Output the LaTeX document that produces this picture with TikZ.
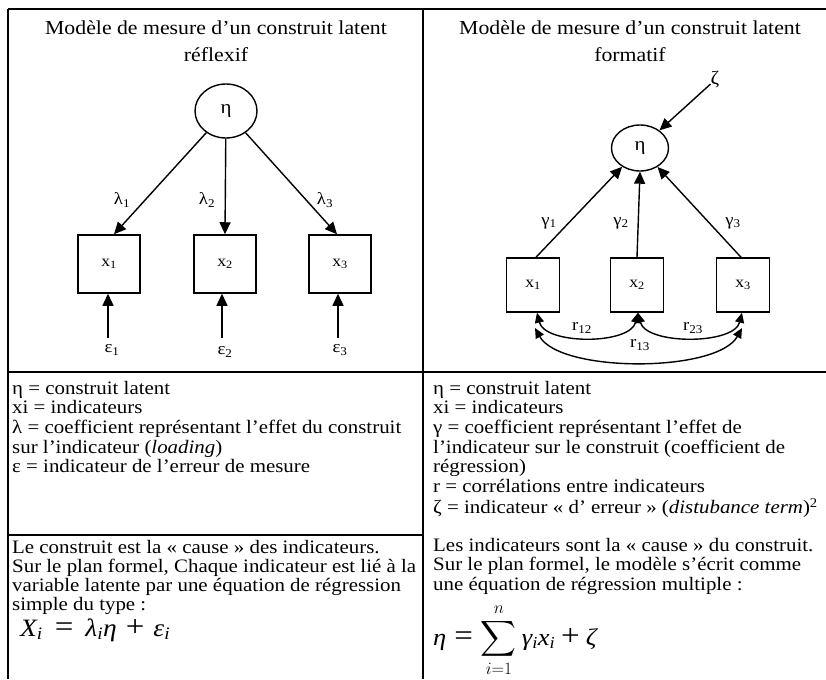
\documentclass[tikz,border=0pt]{standalone}
\usepackage{amsmath}
\usepackage{fontspec}
\setmainfont{Liberation Serif}[FakeStretch=1.1]
\usetikzlibrary{arrows.meta,shapes.geometric}
\tikzset{
  rule/.style={line width=1.4pt},
  lat/.style={draw,ellipse,line width=1.4pt,inner sep=0pt,font=\fontsize{19}{19}\selectfont},
  obs/.style={draw,rectangle,line width=1.5pt,minimum width=62pt,minimum height=58pt,inner sep=0pt,font=\fontsize{16}{16}\selectfont},
  obsb/.style={obs,minimum width=53pt,minimum height=54pt},
  arr/.style={line width=1.4pt,-{Triangle[length=12pt,width=11pt]}},
  darr/.style={line width=1.4pt,{Triangle[length=10pt,width=9pt]}-{Triangle[length=10pt,width=9pt]}},
  lbl/.style={font=\fontsize{17}{17}\selectfont,inner sep=0pt},
  body/.style={anchor=base west,inner sep=0pt,font=\fontsize{19}{19.7}\selectfont},
  ttl/.style={anchor=base,inner sep=0pt,font=\fontsize{19.8}{27}\selectfont},
}
\newcommand{\bigop}[1]{{\upshape\fontsize{30}{30}\selectfont #1}}
\begin{document}
\begin{tikzpicture}[x=1pt,y=-1pt]
\useasboundingbox (0,0) rectangle (826,679);
% table rules
\draw[rule] (8,9) -- (826,9);
\draw[rule] (8,9) -- (8,679);
\draw[rule] (423,9) -- (423,679);
\draw[rule] (8,372) -- (826,372);
\draw[rule] (8,535) -- (423,535);
% titles
\node[ttl] (ttlL) at (216,35) {\begin{tabular}[t]{@{}c@{}}Modèle de mesure d’un construit latent\\ réflexif\end{tabular}};
\node[ttl] (ttlR) at (630,35) {\begin{tabular}[t]{@{}c@{}}Modèle de mesure d’un construit latent\\ formatif\end{tabular}};
% ---- left diagram
\node[lat,minimum width=62pt,minimum height=54pt] (etaL) at (226,111) {η};
\node[obs] (x1) at (109,264) {x\textsubscript{1}};
\node[obs] (x2) at (225,264) {x\textsubscript{2}};
\node[obs] (x3) at (340,264) {x\textsubscript{3}};
\draw[arr] (etaL) -- ([xshift=5pt]x1.north);
\draw[arr] (etaL) -- (x2.north);
\draw[arr] (etaL) -- ([xshift=-3pt]x3.north);
\node[lbl] (l1) at (122,200) {λ\textsubscript{1}};
\node[lbl] (l2) at (207,200) {λ\textsubscript{2}};
\node[lbl] (l3) at (325,200) {λ\textsubscript{3}};
\coordinate (t1) at (108,338);
\coordinate (t2) at (222,338);
\coordinate (t3) at (338,338);
\draw[arr] (t1) -- (t1 |- x1.south);
\draw[arr] (t2) -- (t2 |- x2.south);
\draw[arr] (t3) -- (t3 |- x3.south);
\node[lbl] (e1) at (112,350) {ε\textsubscript{1}};
\node[lbl] (e2) at (225,352) {ε\textsubscript{2}};
\node[lbl] (e3) at (340,350) {ε\textsubscript{3}};
% ---- right diagram
\node[lat,minimum width=57pt,minimum height=46pt] (etaR) at (640,148) {η};
\node[lbl,font=\fontsize{19}{19}\selectfont] (zeta) at (715,80) {ζ};
\draw[arr] (zeta) -- (etaR);
\node[obsb] (y1) at (533,285) {x\textsubscript{1}};
\node[obsb] (y2) at (637,285) {x\textsubscript{2}};
\node[obsb] (y3) at (743,285) {x\textsubscript{3}};
\draw[arr] ([xshift=3pt]y1.north) -- (etaR);
\draw[arr] (y2.north) -- (etaR.south);
\draw[arr] ([xshift=-2pt]y3.north) -- (etaR);
\node[lbl] (g1) at (549,223) {γ\textsubscript{1}};
\node[lbl] (g2) at (621,223) {γ\textsubscript{2}};
\node[lbl] (g3) at (733,223) {γ\textsubscript{3}};
\draw[darr] ([xshift=4pt]y1.south) .. controls (545,345) and (630,345) .. ([xshift=1pt]y2.south);
\draw[darr] ([xshift=1pt]y2.south) .. controls (646,345) and (734,345) .. ([xshift=-1pt]y3.south);
\coordinate (c1) at (535,328);
\coordinate (c3) at (742,328);
\draw[darr] (c1) .. controls (560,373) and (717,373) .. (c3);
\node[lbl] (r12) at (582,328) {r\textsubscript{12}};
\node[lbl] (r23) at (693,328) {r\textsubscript{23}};
\node[lbl] (r13) at (640,345) {r\textsubscript{13}};
% ---- row 2 texts
\node[body] (defL) at (12,394) {\begin{tabular}[t]{@{}l@{}}
η = construit latent\\
xi = indicateurs\\
λ = coefficient représentant l’effet du construit\\
sur l’indicateur (\textit{loading})\\
ε = indicateur de l’erreur de mesure
\end{tabular}};
\node[body] (defR) at (433,394) {\begin{tabular}[t]{@{}l@{}}
η = construit latent\\
xi = indicateurs\\
γ = coefficient représentant l’effet de\\
l’indicateur sur le construit  (coefficient de\\
régression)\\
r = corrélations entre indicateurs\\
ζ = indicateur « d’ erreur » (\textit{distubance term})\textsuperscript{2}
\end{tabular}};
% ---- row 3 texts
\node[body,font=\fontsize{19}{19}\selectfont] (txtL) at (12,553) {\begin{tabular}[t]{@{}l@{}}
Le construit est la « cause » des indicateurs.\\
Sur le plan formel, Chaque indicateur est lié à la\\
variable latente par une équation de régression\\
simple du type :
\end{tabular}};
\node[body] (txtR) at (433,551) {\begin{tabular}[t]{@{}l@{}}
Les indicateurs sont la « cause » du construit.\\
Sur le plan formel, le modèle s’écrit comme\\
une équation de régression multiple  :
\end{tabular}};
\node[anchor=base west,inner sep=0pt,font=\fontsize{25}{25}\selectfont\itshape] (eqL) at (20,636)
  {X\textsubscript{i}\hspace{12pt}\bigop{=}\hspace{12pt}λ\textsubscript{i}η\hspace{9pt}\bigop{+}\hspace{9pt}ε\textsubscript{i}};
\node[anchor=base west,inner sep=0pt,font=\fontsize{24}{24}\selectfont] (eqR) at (433,645)
  {\textit{η}\hspace{8pt}\bigop{=}\hspace{8pt}$\displaystyle\sum_{i=1}^{n}$\hspace{5pt}\textit{γ\textsubscript{i}x\textsubscript{i}}\hspace{6pt}\bigop{+}\hspace{6pt}\textit{ζ}};
\end{tikzpicture}
\end{document}
